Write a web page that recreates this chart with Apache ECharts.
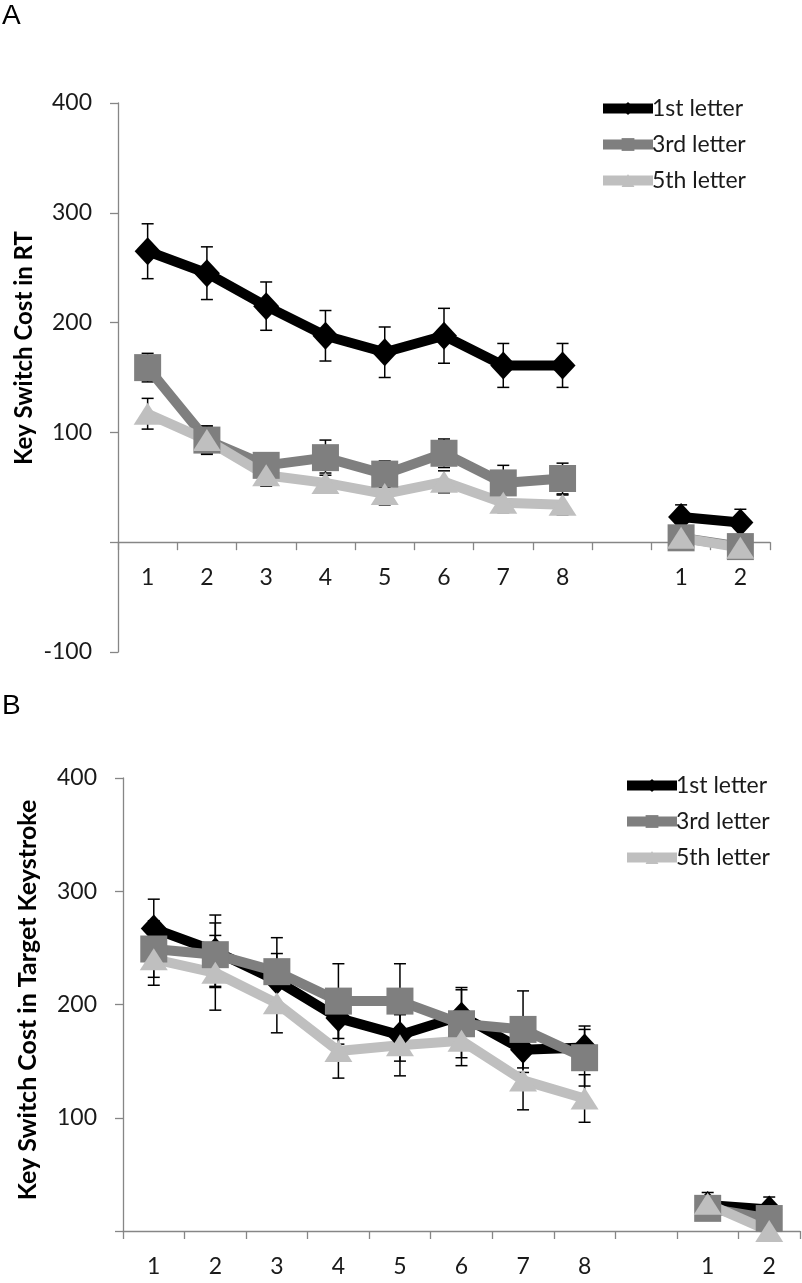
<!DOCTYPE html>
<html>
<head>
<meta charset="utf-8">
<script src="https://cdn.jsdelivr.net/npm/echarts@6/dist/echarts.min.js"></script>
<style>html,body{margin:0;padding:0;background:#fff}#c{width:802px;height:1283px}</style>
</head>
<body>
<div id="c"></div>
<script>
// ---- data ----
const xLabels = ['1','2','3','4','5','6','7','8','','1','2'];
const seriesNames = ['1st letter','3rd letter','5th letter'];
const yTicksA = [-100, 400, 100];   // min, max, step
const yTicksB = [0, 400, 100];

// Panel A: key switch cost in RT
const rtFirst     = [265,245,215,188,173,188,161,161,null,23,18];
const rtFirstErr  = [25,24,22,23,23,25,20,20,null,11,12];
const rtThird     = [159,93,70,77,62,81,54,58,null,4,-4];
const rtThirdErr  = [13,13,10,16,12,13,16,14,null,6,6];
const rtFifth     = [117,93,61,54,44,55,36,34,null,4,-5];
const rtFifthErr  = [14,12,10,9,10,10,9,9,null,6,6];

// Panel B: key switch cost in target keystroke
const ksFirst     = [267,247,221,188,173,190,160,162,null,23,19];
const ksFirstErr  = [26,32,24,23,23,25,20,19,null,11,11];
const ksThird     = [249,244,229,203,203,183,178,153,null,20,11];
const ksThirdErr  = [25,28,30,33,33,30,34,25,null,6,6];
const ksFifth     = [240,228,201,159,164,168,133,117,null,24,0];
const ksFifthErr  = [23,33,26,24,27,22,26,21,null,6,6];

// ---- styles ----
const colors = ['#000000','#7f7f7f','#bfbfbf'];
const symbols = ['diamond','rect','triangle'];
const symSizes = [[26,28],[27,27],[28,22]];
const axisColor = '#868686';
const labelFont = 'Lato, "Open Sans", sans-serif';

const chart = echarts.init(document.getElementById('c'), null, {renderer:'canvas'});

function xAxis(gi, offset){
  return {
    gridIndex: gi, type:'category', data: xLabels, boundaryGap:true,
    position:'bottom', offset: offset,
    axisLine:{onZero:false, lineStyle:{color:axisColor, width:1.3}},
    axisTick:{show:true, interval:0, length:8, lineStyle:{color:axisColor, width:1.3}},
    axisLabel:{interval:0, margin:24, color:'#1a1a1a', fontFamily:labelFont, fontSize:23},
    splitLine:{show:false}
  };
}
function yAxis(gi, t){
  return {
    gridIndex: gi, type:'value', min:t[0], max:t[1], interval:t[2],
    axisLine:{show:true, lineStyle:{color:axisColor, width:1.3}},
    axisTick:{show:true, length:8, lineStyle:{color:axisColor, width:1.3}},
    axisLabel:{margin:26, color:'#1a1a1a', fontFamily:labelFont, fontSize:23,
      formatter: v => v === 0 ? '' : String(v)},
    splitLine:{show:false}
  };
}
function lineSeries(gi, idx, vals){
  return {
    type:'line', name: seriesNames[idx], xAxisIndex:gi, yAxisIndex:gi,
    data: vals, connectNulls:false, clip:false,
    symbol: symbols[idx], symbolSize: symSizes[idx], showAllSymbol:true,
    lineStyle:{color:colors[idx], width:10},
    itemStyle:{color:colors[idx]},
    z: 3, animation:false
  };
}
function errSeries(gi, vals, errs){
  const d = [];
  vals.forEach((v,i)=>{ if(v!==null) d.push([i, v, errs[i]]); });
  return {
    type:'custom', xAxisIndex:gi, yAxisIndex:gi, z:2, silent:true, animation:false, clip:false,
    data: d, encode:{x:0, y:1},
    renderItem:(params, api)=>{
      const x = api.value(0), v = api.value(1), e = api.value(2);
      const top = api.coord([x, v+e]);
      const bot = api.coord([x, v-e]);
      const hw = 6;
      const st = {stroke:'#000', lineWidth:1.5};
      return {type:'group', children:[
        {type:'line', shape:{x1:top[0], y1:top[1], x2:bot[0], y2:bot[1]}, style:st},
        {type:'line', shape:{x1:top[0]-hw, y1:top[1], x2:top[0]+hw, y2:top[1]}, style:st},
        {type:'line', shape:{x1:bot[0]-hw, y1:bot[1], x2:bot[0]+hw, y2:bot[1]}, style:st}
      ]};
    }
  };
}
function legend(left, top){
  return {
    left, top, orient:'vertical', selectedMode:false,
    itemWidth:50, itemHeight:16, itemGap:13,
    data: seriesNames,
    lineStyle:{width:10},
    textStyle:{fontFamily:labelFont, fontSize:23, color:'#1a1a1a', padding:[0,0,0,-6]}
  };
}

const option = {
  backgroundColor:'#fff',
  animation:false,
  grid:[
    {left:118, top:103, width:652, height:549, containLabel:false},
    {left:123, top:778, width:677, height:453, containLabel:false}
  ],
  xAxis:[xAxis(0, -109.8), xAxis(1, 0)],
  yAxis:[yAxis(0, yTicksA), yAxis(1, yTicksB)],
  legend:[legend(593, 92), legend(617, 769)],
  series:[
    errSeries(0, rtFirst, rtFirstErr), errSeries(0, rtThird, rtThirdErr), errSeries(0, rtFifth, rtFifthErr),
    lineSeries(0, 0, rtFirst), lineSeries(0, 1, rtThird), lineSeries(0, 2, rtFifth),
    errSeries(1, ksFirst, ksFirstErr), errSeries(1, ksThird, ksThirdErr), errSeries(1, ksFifth, ksFifthErr),
    lineSeries(1, 0, ksFirst), lineSeries(1, 1, ksThird), lineSeries(1, 2, ksFifth)
  ],
  graphic:[
    {type:'text', left:2, top:2, style:{text:'A', font:'28px "Liberation Sans", Arial, sans-serif', fill:'#000'}},
    {type:'text', left:2, top:692, style:{text:'B', font:'28px "Liberation Sans", Arial, sans-serif', fill:'#000'}},
    {type:'text', x:24, y:348, rotation:Math.PI/2,
      style:{text:'Key Switch Cost in RT', font:'bold 24px Lato, sans-serif', fill:'#000', textAlign:'center', textVerticalAlign:'middle'}},
    {type:'text', x:28, y:1000, rotation:Math.PI/2,
      style:{text:'Key Switch Cost in Target Keystroke', font:'bold 25px Lato, sans-serif', fill:'#000', textAlign:'center', textVerticalAlign:'middle'}}
  ]
};
chart.setOption(option);
</script>
</body>
</html>
